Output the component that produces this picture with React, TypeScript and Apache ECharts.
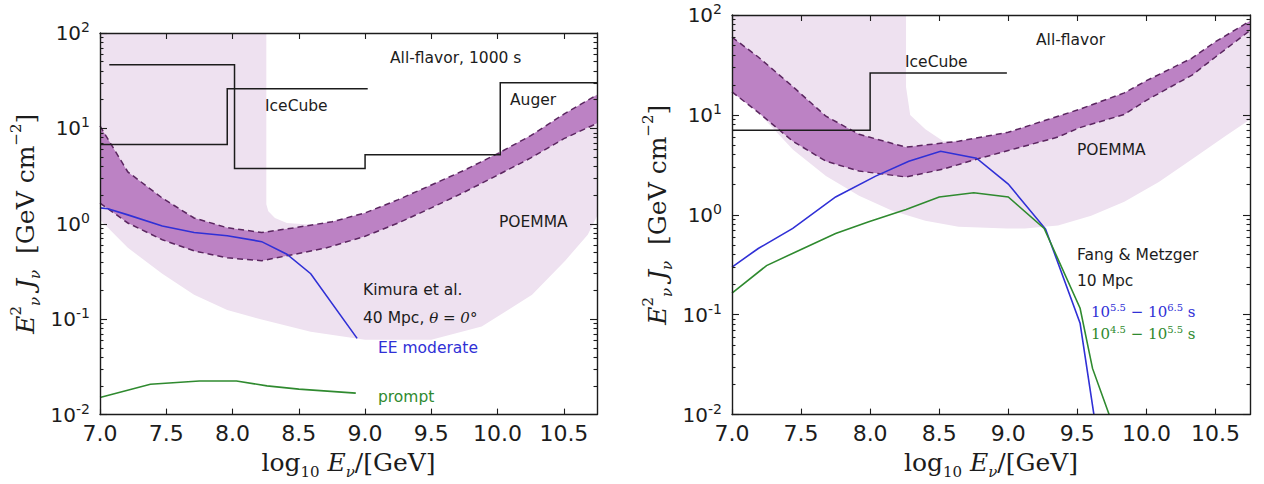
import React, { useEffect, useRef } from "react";
import * as echarts from "echarts";

const SANS = "'DejaVu Sans', 'Noto Sans', sans-serif";
const SERIF = "'DejaVu Serif', 'Liberation Serif', serif";
const INK = "#1c1c1c";
const BLUE = "#3030d6";
const GREEN = "#2f8a2f";
const BAND_FILL = "#bc82c4";
const BAND_EDGE = "#5b2660";
const RANGE_FILL = "#eee1f0";

type Pt = [number, number];

// Axis ranges and tick values
const E_MIN = 7.0;
const E_MAX = 10.75;
const FLUX_MIN = 0.01;
const FLUX_MAX = 100;
const energyTicks = [7.0, 7.5, 8.0, 8.5, 9.0, 9.5, 10.0, 10.5];
const decadeExponents = [-2, -1, 0, 1];
const minorMultipliers = [2, 3, 4, 5, 6, 7, 8, 9];

// ---- Left panel: all-flavor, 1000 s ----
const leftPoemmaRange: Pt[] = [
  [7.0, 100], [8.255, 100], [8.255, 1.6], [8.27, 1.35], [8.32, 1.15], [8.41, 1.02],
  [8.6, 0.98], [8.75, 1.05], [9.0, 1.3], [9.25, 1.79], [9.5, 2.55], [9.75, 3.65],
  [10.0, 5.44], [10.25, 8.4], [10.5, 14.1], [10.75, 22.5], [10.75, 1.2], [10.68, 0.77],
  [10.51, 0.41], [10.26, 0.18], [9.88, 0.084], [9.5, 0.061], [9.0, 0.061], [8.59, 0.074],
  [8.22, 0.099], [7.96, 0.125], [7.71, 0.18], [7.47, 0.3], [7.21, 0.56], [7.0, 1.1],
];
const leftBandUpper: Pt[] = [
  [7.0, 10.6], [7.21, 3.5], [7.47, 1.86], [7.71, 1.15], [7.96, 0.91], [8.22, 0.81],
  [8.47, 0.91], [8.75, 1.05], [9.0, 1.3], [9.25, 1.79], [9.5, 2.55], [9.75, 3.65],
  [10.0, 5.44], [10.25, 8.4], [10.5, 14.1], [10.75, 22.5],
];
const leftBandLower: Pt[] = [
  [7.0, 1.65], [7.21, 1.02], [7.47, 0.68], [7.71, 0.52], [7.96, 0.44], [8.22, 0.41],
  [8.47, 0.48], [8.71, 0.56], [9.0, 0.74], [9.25, 1.02], [9.5, 1.47], [9.75, 2.15],
  [10.0, 3.24], [10.25, 4.9], [10.5, 7.8], [10.75, 11.3],
];
const leftIceCubeAuger: Pt[] = [
  [7.07, 46.6], [8.015, 46.6], [8.015, 3.8], [9.0, 3.8], [9.0, 5.3],
  [10.02, 5.3], [10.02, 30.1], [10.75, 30.1],
];
const leftIceCubeSecond: Pt[] = [[7.0, 6.8], [7.96, 6.8], [7.96, 26.1], [9.02, 26.1]];
const kimuraEEModerate: Pt[] = [
  [7.0, 1.47], [7.06, 1.44], [7.21, 1.24], [7.47, 0.95], [7.71, 0.81], [7.96, 0.75],
  [8.22, 0.65], [8.41, 0.48], [8.59, 0.3], [8.94, 0.063],
];
const kimuraPrompt: Pt[] = [
  [7.0, 0.0151], [7.38, 0.0208], [7.75, 0.0225], [8.03, 0.0225], [8.26, 0.02],
  [8.5, 0.0185], [8.93, 0.0168],
];

// ---- Right panel: all-flavor ----
const rightPoemmaRange: Pt[] = [
  [7.0, 100], [8.26, 100], [8.26, 19], [8.29, 10], [8.4, 7.2], [8.53, 5.45], [8.64, 5.45],
  [9.0, 6.7], [9.36, 9.7], [9.51, 11.3], [9.84, 16.6], [10.0, 22], [10.33, 37], [10.5, 54],
  [10.75, 87], [10.75, 9.0], [10.57, 6.1], [10.33, 3.6], [10.09, 2.13], [9.84, 1.35],
  [9.6, 0.98], [9.36, 0.78], [9.12, 0.73], [8.99, 0.73], [8.64, 0.76], [8.4, 0.87],
  [8.16, 1.1], [7.92, 1.55], [7.68, 2.44], [7.44, 4.5], [7.19, 10.6], [7.0, 17],
];
const rightBandUpper: Pt[] = [
  [7.0, 60], [7.19, 38], [7.44, 19.2], [7.68, 9.7], [7.92, 6.4], [8.26, 4.75],
  [8.64, 5.45], [9.0, 6.7], [9.36, 9.7], [9.51, 11.3], [9.84, 16.6], [10.0, 22],
  [10.33, 37], [10.5, 54], [10.75, 87],
];
const rightBandLower: Pt[] = [
  [7.0, 17], [7.19, 10.6], [7.44, 5.45], [7.68, 3.44], [7.92, 2.74], [8.26, 2.39],
  [8.53, 2.87], [8.77, 3.6], [9.0, 4.4], [9.36, 6.0], [9.51, 7.4], [9.84, 10.1],
  [10.0, 14], [10.33, 25], [10.5, 38], [10.75, 70],
];
const rightIceCube: Pt[] = [[7.0, 7.0], [8.0, 7.0], [8.0, 26.3], [8.99, 26.3]];
const fangMetzgerLate: Pt[] = [
  [7.0, 0.3], [7.19, 0.46], [7.44, 0.73], [7.75, 1.51], [8.04, 2.44], [8.28, 3.44],
  [8.51, 4.33], [8.77, 3.69], [9.0, 2.03], [9.27, 0.72], [9.52, 0.082], [9.62, 0.01],
];
const fangMetzgerEarly: Pt[] = [
  [7.0, 0.164], [7.25, 0.31], [7.5, 0.45], [7.75, 0.65], [7.99, 0.85], [8.26, 1.13],
  [8.5, 1.51], [8.75, 1.66], [9.0, 1.51], [9.26, 0.73], [9.52, 0.116], [9.61, 0.029],
  [9.73, 0.01],
];

const minorLogTicks: number[] = [];
decadeExponents.forEach((d) =>
  minorMultipliers.forEach((m) => minorLogTicks.push(d + Math.log10(m)))
);

const axisLine = { show: true, onZero: false, lineStyle: { color: INK, width: 1.4 } };
const tickLine = { color: INK, width: 1.1 };

const nameRich = {
  r: { fontFamily: SERIF, fontSize: 25, lineHeight: 34, color: INK },
  i: { fontFamily: SERIF, fontStyle: "italic", fontSize: 25, lineHeight: 34, color: INK },
  up: { fontFamily: SERIF, fontSize: 15, lineHeight: 15, verticalAlign: "top", color: INK },
  dn: { fontFamily: SERIF, fontStyle: "italic", fontSize: 15, lineHeight: 15, verticalAlign: "bottom", color: INK },
  dr: { fontFamily: SERIF, fontSize: 15, lineHeight: 15, verticalAlign: "bottom", color: INK },
};

function xAxesFor(gridIndex: number) {
  return [
    {
      type: "value", gridIndex, min: E_MIN, max: E_MAX, interval: 0.5, position: "bottom", z: 10,
      axisLine,
      axisTick: { show: true, inside: true, length: 6, customValues: energyTicks, lineStyle: tickLine },
      axisLabel: {
        show: true, customValues: energyTicks, margin: 8,
        formatter: (v: number) => v.toFixed(1),
        fontFamily: SANS, fontSize: 22, color: INK,
      },
      splitLine: { show: false },
      name: "{r|log}{dr|10}{i| E}{dn|ν}{r|/[GeV]}",
      nameLocation: "middle", nameGap: 28,
      nameTextStyle: { rich: nameRich },
    },
    {
      type: "value", gridIndex, min: E_MIN, max: E_MAX, interval: 0.5, position: "top", z: 10,
      axisLine,
      axisTick: { show: true, inside: true, length: 6, customValues: energyTicks, lineStyle: tickLine },
      axisLabel: { show: false },
      splitLine: { show: false },
    },
  ];
}

function yAxesFor(gridIndex: number) {
  const logBase = {
    type: "log", logBase: 10, gridIndex, min: FLUX_MIN, max: FLUX_MAX, z: 10,
    axisLine, splitLine: { show: false }, minorTick: { show: false },
    axisTick: { show: true, inside: true, length: 7, lineStyle: tickLine },
  };
  const minorBase = {
    type: "value", gridIndex, min: -2, max: 2, interval: 1, z: 10,
    axisLine: { show: false }, splitLine: { show: false },
    axisTick: { show: true, inside: true, length: 3.5, customValues: minorLogTicks, lineStyle: tickLine },
    axisLabel: { show: false },
  };
  return [
    {
      ...logBase, position: "left",
      axisLabel: {
        show: true, margin: 10,
        formatter: (v: number) => `{b|10}{s|${Math.round(Math.log10(v))}}`,
        rich: {
          b: { fontFamily: SANS, fontSize: 20, lineHeight: 26, color: INK },
          s: { fontFamily: SANS, fontSize: 14, lineHeight: 14, verticalAlign: "top", color: INK },
        },
      },
      name: "{i|E}{up|2}{dn|ν}{i| J}{dn|ν}{r|  [GeV cm}{up|−2}{r|]}",
      nameLocation: "middle", nameRotate: 90, nameGap: 58,
      nameTextStyle: { rich: nameRich },
    },
    { ...logBase, position: "right", axisLabel: { show: false } },
    { ...minorBase, position: "left" },
    { ...minorBase, position: "right" },
  ];
}

type Ax = { x: number; y: number };
const LEFT: Ax = { x: 0, y: 0 };
const RIGHT: Ax = { x: 2, y: 4 };

function areaSeries(id: string, pts: Pt[], ax: Ax, fill: string, z: number) {
  return {
    type: "custom", id, xAxisIndex: ax.x, yAxisIndex: ax.y, z, silent: true, clip: true,
    data: [pts[0]],
    renderItem: (_p: any, api: any) => ({
      type: "polygon",
      shape: { points: pts.map((p) => api.coord(p)) },
      style: { fill, stroke: "none" },
    }),
  };
}

function lineSeries(id: string, data: Pt[], ax: Ax, color: string, width: number, z: number, dashed = false) {
  return {
    type: "line", id, data, xAxisIndex: ax.x, yAxisIndex: ax.y, z, silent: true,
    symbol: "none", showSymbol: false, clip: true, animation: false,
    lineStyle: { color, width, type: dashed ? [6, 4] : "solid", cap: "butt", join: "miter" },
  };
}

function bandSeries(prefix: string, upper: Pt[], lower: Pt[], ax: Ax) {
  return [
    areaSeries(prefix + "-band", [...upper, ...lower.slice().reverse()], ax, BAND_FILL, 2),
    lineSeries(prefix + "-band-upper", upper, ax, BAND_EDGE, 1.5, 3, true),
    lineSeries(prefix + "-band-lower", lower, ax, BAND_EDGE, 1.5, 3, true),
  ];
}

function label(x: number, y: number, text: string, fill = INK, size = 15.5) {
  return {
    type: "text", x, y, silent: true, z: 100,
    style: { text, fill, fontFamily: SANS, fontSize: size, verticalAlign: "middle", align: "left" },
  };
}

function durationLabel(x: number, y: number, a: string, b: string, fill: string) {
  const n = { fontFamily: SERIF, fontSize: 15, lineHeight: 20, fill };
  const p = { fontFamily: SERIF, fontSize: 10, lineHeight: 10, verticalAlign: "top", fill };
  return {
    type: "text", x, y, silent: true, z: 100,
    style: {
      text: `{n|10}{p|${a}}{n| − 10}{p|${b}}{n| s}`,
      rich: { n, p }, fill, verticalAlign: "middle", align: "left",
    },
  };
}

export default function App() {
  const ref = useRef<HTMLDivElement>(null);

  useEffect(() => {
    if (!ref.current) return;
    const chart = echarts.init(ref.current, null, { renderer: "svg" });
    chart.setOption({
      animation: false,
      backgroundColor: "#ffffff",
      grid: [
        { left: 100, top: 33, width: 497, height: 385, containLabel: false },
        { left: 732, top: 15, width: 518, height: 402, containLabel: false },
      ],
      xAxis: [...xAxesFor(0), ...xAxesFor(1)],
      yAxis: [...yAxesFor(0), ...yAxesFor(1)],
      series: [
        areaSeries("left-range", leftPoemmaRange, LEFT, RANGE_FILL, 1),
        ...bandSeries("left", leftBandUpper, leftBandLower, LEFT),
        lineSeries("left-icecube-auger", leftIceCubeAuger, LEFT, INK, 1.5, 4),
        lineSeries("left-icecube", leftIceCubeSecond, LEFT, INK, 1.5, 4),
        lineSeries("kimura-ee-moderate", kimuraEEModerate, LEFT, BLUE, 1.6, 5),
        lineSeries("kimura-prompt", kimuraPrompt, LEFT, GREEN, 1.6, 5),

        areaSeries("right-range", rightPoemmaRange, RIGHT, RANGE_FILL, 1),
        ...bandSeries("right", rightBandUpper, rightBandLower, RIGHT),
        lineSeries("right-icecube", rightIceCube, RIGHT, INK, 1.5, 4),
        lineSeries("fang-metzger-late", fangMetzgerLate, RIGHT, BLUE, 1.6, 5),
        lineSeries("fang-metzger-early", fangMetzgerEarly, RIGHT, GREEN, 1.6, 5),
      ],
      graphic: [
        label(390, 58, "All-flavor, 1000 s"),
        label(265, 106, "IceCube"),
        label(510, 100, "Auger"),
        label(499, 222, "POEMMA"),
        label(363, 290, "Kimura et al."),
        {
          type: "text", x: 363, y: 318, silent: true, z: 100,
          style: {
            text: "{a|40 Mpc, }{m|θ = 0°}",
            rich: {
              a: { fontFamily: SANS, fontSize: 15.5, fill: INK },
              m: { fontFamily: SERIF, fontStyle: "italic", fontSize: 15, fill: INK },
            },
            fill: INK, verticalAlign: "middle", align: "left",
          },
        },
        label(378, 348, "EE moderate", BLUE),
        label(378, 397, "prompt", GREEN),

        label(1036, 40, "All-flavor"),
        label(905, 62, "IceCube"),
        label(1077, 150, "POEMMA"),
        label(1077, 255, "Fang & Metzger"),
        label(1077, 281, "10 Mpc"),
        durationLabel(1091, 312, "5.5", "6.5", BLUE),
        durationLabel(1091, 334, "4.5", "5.5", GREEN),
      ],
    });
    return () => chart.dispose();
  }, []);

  return (
    <div
      ref={ref}
      style={{ position: "absolute", left: 0, top: 0, width: 1264, height: 484, background: "#fff" }}
    />
  );
}
